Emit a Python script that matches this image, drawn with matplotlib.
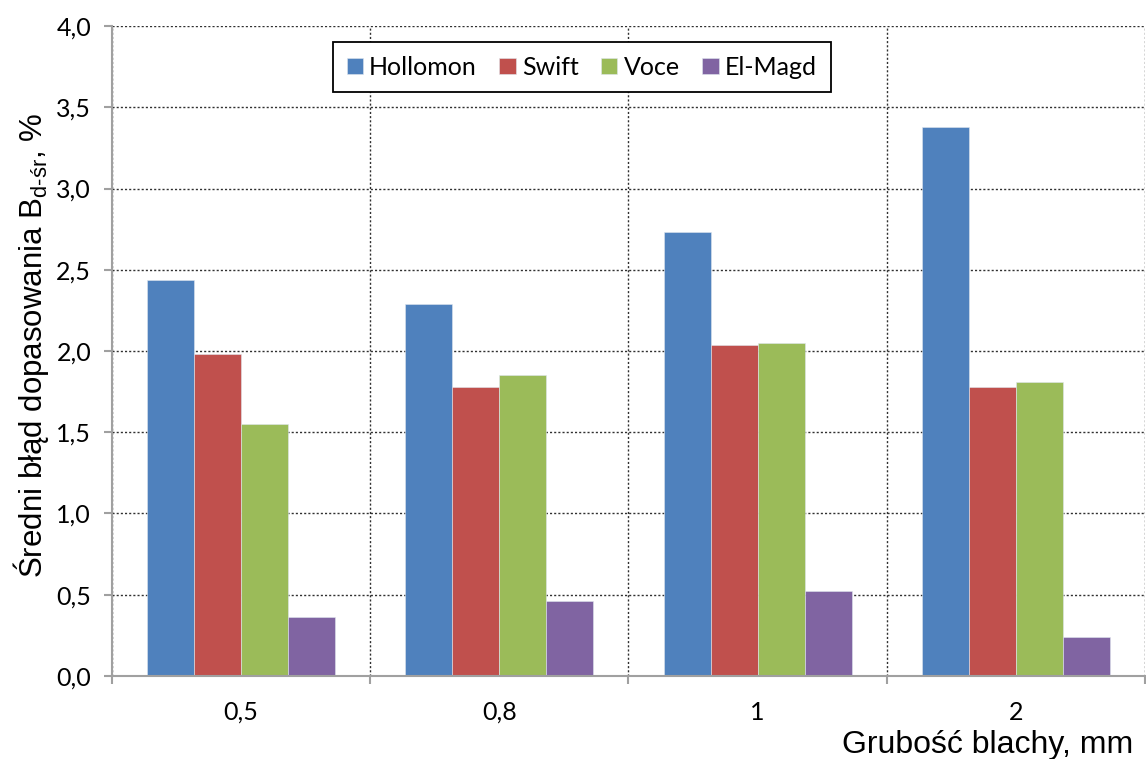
import matplotlib
matplotlib.use("Agg")
import matplotlib.pyplot as plt
from matplotlib.ticker import FuncFormatter, MultipleLocator, FixedLocator
import numpy as np

# dane
grubosc = ["0,5", "0,8", "1", "2"]
hollomon = [2.44, 2.29, 2.73, 3.38]
swift = [1.98, 1.78, 2.04, 1.78]
voce = [1.55, 1.85, 2.05, 1.81]
el_magd = [0.36, 0.46, 0.52, 0.24]

serie = [("Hollomon", hollomon, "#4F81BD"),
         ("Swift", swift, "#C0504D"),
         ("Voce", voce, "#9BBB59"),
         ("El-Magd", el_magd, "#8064A2")]

plt.rcParams["font.family"] = ["Lato", "DejaVu Sans"]
plt.rcParams["mathtext.fontset"] = "custom"
plt.rcParams["mathtext.rm"] = "Liberation Sans"

fig = plt.figure(figsize=(11.46, 7.59), dpi=100)
ax = fig.add_axes([0.0977, 0.1094, 0.9013, 0.8563])

x = np.arange(len(grubosc))
w = 0.182
for i, (nazwa, vals, kolor) in enumerate(serie):
    ax.bar(x + (i - 1.5) * w, vals, w, color=kolor, label=nazwa,
           edgecolor="#dfe6ee", linewidth=0.4, zorder=3)

ax.set_xlim(-0.5, 3.5)
ax.set_ylim(0, 4.0)
ax.yaxis.set_major_locator(MultipleLocator(0.5))
ax.yaxis.set_major_formatter(FuncFormatter(lambda v, p: f"{v:.1f}".replace(".", ",")))

ax.set_xticks(x)
ax.set_xticklabels(grubosc)
ax.xaxis.set_minor_locator(FixedLocator([-0.5, 0.5, 1.5, 2.5, 3.5]))

ax.grid(True, axis="y", which="major", linestyle=(0, (1.5, 1.5)), color="#303030", linewidth=1.0, zorder=0)
ax.grid(True, axis="x", which="minor", linestyle=(0, (1.5, 1.5)), color="#303030", linewidth=1.0, zorder=0)
ax.set_axisbelow(True)

for s in ["top", "right"]:
    ax.spines[s].set_visible(False)
for s in ["left", "bottom"]:
    ax.spines[s].set_color("#a0a0a0")
    ax.spines[s].set_linewidth(1.5)
    ax.spines[s].set_zorder(4)

ax.tick_params(axis="y", which="major", direction="out", length=6, width=1.5, color="#a0a0a0",
               labelsize=18, pad=9)
ax.tick_params(axis="x", which="major", length=0, labelsize=18, pad=18)
ax.tick_params(axis="x", which="minor", direction="out", length=6, width=1.5, color="#a0a0a0")

leg = ax.legend(loc="upper left", bbox_to_anchor=(0.2905, 0.9447), bbox_transform=fig.transFigure,
                ncol=4, frameon=True, fancybox=False, edgecolor="black", framealpha=1,
                prop={"size": 18}, handlelength=0.65, handleheight=0.65,
                handletextpad=0.25, columnspacing=0.9, borderpad=0.55, borderaxespad=0)
leg.get_frame().set_linewidth(1.3)
leg.set_zorder(5)

fig.text(0.9887, 0.0079, "Grubość blachy, mm", ha="right", va="baseline",
         fontsize=23, family="Liberation Sans")
fig.text(0.027, 0.545, r"Średni błąd dopasowania B$_{\mathregular{d\text{-}śr}}$, %",
         rotation=90, ha="center", va="center", fontsize=22.5, family="Liberation Sans")

fig.savefig("out.png", dpi=100)
